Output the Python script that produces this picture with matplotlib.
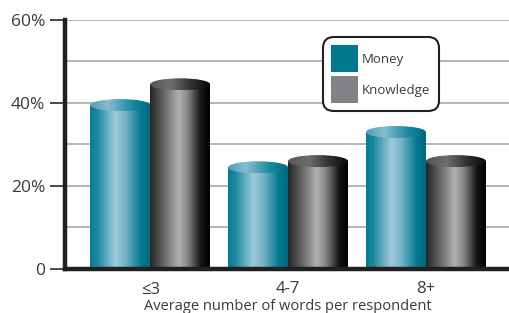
import matplotlib.pyplot as plt
import numpy as np
from matplotlib.colors import LinearSegmentedColormap
from matplotlib.patches import Ellipse, Patch

plt.rcParams['font.family'] = ['Open Sans', 'DejaVu Sans']

categories = ['≤3', '4-7', '8+']
money = [39.5, 24.5, 33]
knowledge = [44.5, 26, 26]
series_names = ['Money', 'Knowledge']
y_ticks = [0, 20, 40, 60]
y_ticklabels = ['0', '20%', '40%', '60%']
x_label = 'Average number of words per respondent'

text_col = '#3a3a3a'
axis_col = '#231f20'
grid_col = '#b4b4b8'

money_body = LinearSegmentedColormap.from_list('mb', [
    (0.0, '#0b7a92'), (0.12, '#1a88a0'), (0.42, '#9ecad8'),
    (0.6, '#72b2c4'), (0.85, '#02788f'), (1.0, '#006a80')])
money_top = LinearSegmentedColormap.from_list('mt', [
    (0.0, '#4f9fb5'), (0.3, '#86bdcc'), (0.7, '#1a8aa2'), (1.0, '#006a80')])
know_body = LinearSegmentedColormap.from_list('kb', [
    (0.0, '#262626'), (0.12, '#454545'), (0.48, '#b0b0b0'),
    (0.62, '#8a8a8a'), (0.85, '#151515'), (1.0, '#000000')])
know_top = LinearSegmentedColormap.from_list('kt', [
    (0.0, '#555555'), (0.35, '#6e6e6e'), (0.7, '#2e2e2e'), (1.0, '#0a0a0a')])

fig = plt.figure(figsize=(5.1, 3.13), dpi=100)
ax = fig.add_axes([0.127, 0.1406, 0.873, 0.7955])

x = np.arange(len(categories))
w = 0.435
grad = np.linspace(0, 1, 256).reshape(1, -1)
top_h = 2.9

def cylinders(bars, body_cmap, top_cmap):
    for b in bars:
        x0, bw, h = b.get_x(), b.get_width(), b.get_height()
        im = ax.imshow(grad, cmap=body_cmap, extent=(x0, x0 + bw, 0, h),
                       aspect='auto', zorder=3, interpolation='bilinear')
        im.set_clip_path(b)
        el = Ellipse((x0 + bw / 2, h), bw, top_h, facecolor='none',
                     edgecolor='none', zorder=4)
        ax.add_patch(el)
        im2 = ax.imshow(grad, cmap=top_cmap,
                        extent=(x0, x0 + bw, h - top_h / 2, h + top_h / 2),
                        aspect='auto', zorder=4, interpolation='bilinear')
        im2.set_clip_path(el)

b1 = ax.bar(x - w / 2, money, w, facecolor='none', edgecolor='none', zorder=3)
b2 = ax.bar(x + w / 2, knowledge, w, facecolor='none', edgecolor='none', zorder=3)
cylinders(b1, money_body, money_top)
cylinders(b2, know_body, know_top)

ax.set_xlim(-0.62, 2.61)
ax.set_ylim(0, 60)

for g in [10, 20, 30, 40, 50, 60]:
    ax.axhline(g, color=grid_col, lw=1.4, zorder=1)

ax.set_yticks(y_ticks)
ax.set_yticklabels(y_ticklabels)
ax.tick_params(axis='y', length=11, width=1.3, color=text_col, pad=3,
               labelsize=12.5, labelcolor=text_col)
ax.set_xticks(x)
ax.set_xticklabels(categories)
ax.tick_params(axis='x', length=0, pad=9, labelsize=12, labelcolor=text_col)
ax.set_xlabel(x_label, fontsize=10.5, color=text_col, labelpad=1)

for s in ['top', 'right']:
    ax.spines[s].set_visible(False)
for s in ['left', 'bottom']:
    ax.spines[s].set_linewidth(3.2)
    ax.spines[s].set_color(axis_col)
    ax.spines[s].set_zorder(5)

handles = [Patch(facecolor='#00788e', edgecolor='none'),
           Patch(facecolor='#808285', edgecolor='none')]
leg = fig.legend(handles, series_names, loc='upper left',
                 bbox_to_anchor=(323 / 510, 1 - 37 / 313),
                 bbox_transform=fig.transFigure, fontsize=9.5,
                 handlelength=2.05, handleheight=2.77, labelspacing=0.3,
                 borderpad=0.62, handletextpad=0.3, borderaxespad=0,
                 frameon=True, fancybox=True, labelcolor=text_col)
fr = leg.get_frame()
fr.set_edgecolor(axis_col)
fr.set_linewidth(1.5)
fr.set_facecolor('white')
fr.set_alpha(1)
fr.set_boxstyle('round', pad=0, rounding_size=0.8)

fig.savefig('out.png', dpi=100)
